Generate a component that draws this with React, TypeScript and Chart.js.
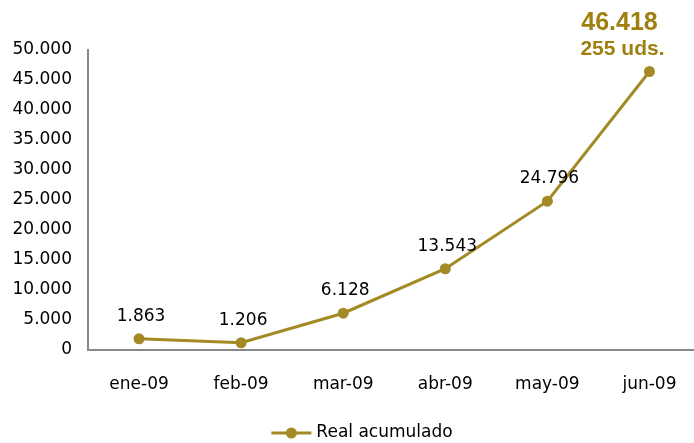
import { useEffect, useRef } from 'react';
import { Chart, registerables } from 'chart.js';

Chart.register(...registerables);

const categories = ['ene-09', 'feb-09', 'mar-09', 'abr-09', 'may-09', 'jun-09'];
const realAcumulado = [1863, 1206, 6128, 13543, 24796, 46418];
const seriesLabel = 'Real acumulado';
const lastUnitsLabel = '255 uds.';
const yMin = 0;
const yMax = 50000;
const yStep = 5000;

const GOLD = '#A38A24';
const GOLD_TEXT = '#9E7F10';
const AXIS = '#888888';
const FONT = 'DejaVu Sans';
const CANVAS_W = 706;
const VIEW_W = 694;
const H = 443;

function fmt(n: number): string {
  return String(Math.round(n)).replace(/\B(?=(\d{3})+(?!\d))/g, '.');
}

const labelsPlugin = {
  id: 'customLabels',
  afterDatasetsDraw(chart: any) {
    const ctx = chart.ctx;
    const meta = chart.getDatasetMeta(0);
    const data = chart.data.datasets[0].data as number[];
    ctx.save();
    meta.data.forEach((pt: any, i: number) => {
      const { x, y } = pt.getProps(['x', 'y'], true);
      if (i === data.length - 1) {
        ctx.fillStyle = GOLD_TEXT;
        ctx.textAlign = 'center';
        ctx.textBaseline = 'alphabetic';
        ctx.font = 'bold 25px "Liberation Sans"';
        ctx.fillText(fmt(data[i]), x - 30, y - 41);
        ctx.font = 'bold 21px "Liberation Sans"';
        ctx.fillText(lastUnitsLabel, x - 27, y - 16);
      } else {
        ctx.fillStyle = '#000000';
        ctx.textAlign = 'center';
        ctx.textBaseline = 'alphabetic';
        ctx.font = `17px "${FONT}"`;
        ctx.fillText(fmt(data[i]), x + 2, y - 18);
      }
    });
    // legend
    const ly = 433;
    ctx.font = `17px "${FONT}"`;
    const tw = ctx.measureText(seriesLabel).width;
    const total = 40 + 5 + tw;
    const startX = VIEW_W / 2 + 15 - total / 2;
    ctx.strokeStyle = GOLD;
    ctx.lineWidth = 3;
    ctx.beginPath();
    ctx.moveTo(startX, ly);
    ctx.lineTo(startX + 40, ly);
    ctx.stroke();
    ctx.fillStyle = GOLD;
    ctx.beginPath();
    ctx.arc(startX + 20, ly, 5.5, 0, Math.PI * 2);
    ctx.fill();
    ctx.fillStyle = '#000000';
    ctx.textAlign = 'left';
    ctx.textBaseline = 'middle';
    ctx.fillText(seriesLabel, startX + 45, ly);
    ctx.restore();
  },
};

export default function App() {
  const canvasRef = useRef<HTMLCanvasElement | null>(null);

  useEffect(() => {
    document.body.style.margin = '0';
    const canvas = canvasRef.current;
    if (!canvas) return;
    const chart = new Chart(canvas, {
      type: 'line',
      data: {
        labels: categories,
        datasets: [
          {
            label: seriesLabel,
            data: realAcumulado,
            borderColor: GOLD,
            backgroundColor: GOLD,
            borderWidth: 3,
            pointRadius: 5.5,
            pointBackgroundColor: GOLD,
            pointBorderColor: GOLD,
            pointBorderWidth: 0,
            tension: 0,
            clip: false as any,
          },
        ],
      },
      options: {
        animation: false,
        responsive: false,
        maintainAspectRatio: false,
        layout: { padding: { top: 50, right: 0, bottom: 0, left: 0 } },
        plugins: {
          legend: { display: false },
          tooltip: { enabled: false },
          title: { display: false },
        },
        scales: {
          x: {
            type: 'category',
            offset: true,
            grid: { display: false, drawTicks: false },
            border: { display: true, color: AXIS, width: 2 },
            ticks: {
              color: '#000000',
              font: { family: FONT, size: 17 },
              padding: 24,
              maxRotation: 0,
              autoSkip: false,
            },
            afterFit: (s: any) => {
              s.height = 93;
              s.paddingLeft = 0;
              s.paddingRight = 0;
            },
          },
          y: {
            type: 'linear',
            min: yMin,
            max: yMax,
            grid: { display: false, drawTicks: false },
            border: { display: true, color: AXIS, width: 2 },
            ticks: {
              stepSize: yStep,
              color: '#000000',
              font: { family: FONT, size: 17 },
              padding: 16,
              callback: (v: any) => fmt(Number(v)),
            },
            afterFit: (s: any) => {
              s.width = 88;
            },
          },
        },
      },
      plugins: [labelsPlugin],
    });
    return () => chart.destroy();
  }, []);

  return (
    <div style={{ width: VIEW_W, height: H, overflow: 'hidden' }}>
      <canvas
        ref={canvasRef}
        width={CANVAS_W}
        height={H}
        style={{ display: 'block', width: CANVAS_W, height: H }}
      />
    </div>
  );
}
